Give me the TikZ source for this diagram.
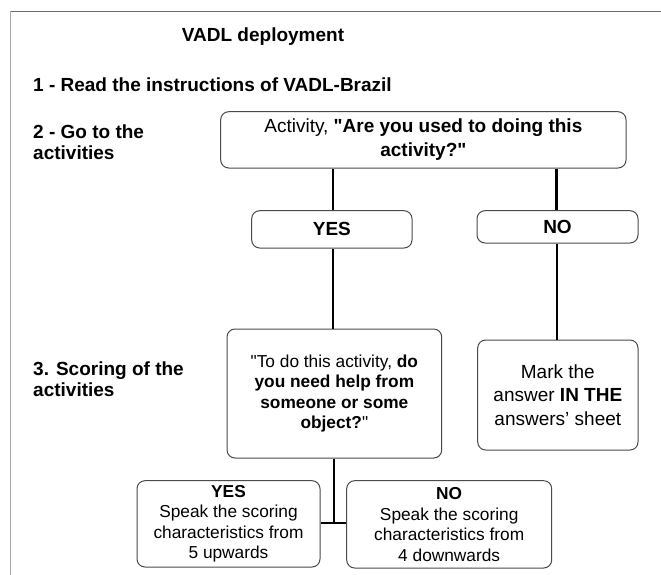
\documentclass[tikz,border=0pt]{standalone}
\usepackage{fontspec}
\setmainfont{Liberation Sans}[Ligatures=TeXOff]
\definecolor{framegray}{HTML}{6A6A6A}
\definecolor{framegrayL}{HTML}{A8A8A8}
\definecolor{boxgray}{HTML}{4A4A4A}
\tikzset{
  lbl/.style={inner sep=0pt, font=\fontsize{19}{21}\selectfont\bfseries, align=left},
  flowbox/.style={draw=boxgray, line width=1pt, rounded corners=8pt, inner sep=0pt, align=center},
  bigtxt/.style={font=\fontsize{19}{24}\selectfont},
  smalltxt/.style={font=\fontsize{17.3}{20.5}\selectfont},
  conn/.style={draw=black, line width=2.5pt}
}
\begin{document}
\begin{tikzpicture}[x=1pt,y=-1pt]
\useasboundingbox (0,0) rectangle (661,575);
% frame
\draw[framegray, line width=1pt] (661,11.5) -- (10.7,11.5);
\draw[framegrayL, line width=1.5pt] (10.7,11.5) -- (10.7,575);
% left labels
\node[lbl, anchor=center] (title) at (263,37) {VADL deployment};
\node[lbl, anchor=west] (step1) at (33,85) {1 - Read the instructions of VADL-Brazil};
\node[lbl, anchor=west] (step2) at (33,142.5) {2 - Go to the\\activities};
\node[lbl, anchor=west] (step3) at (33,379) {3. Scoring of the\\activities};
% boxes
\node[flowbox, bigtxt, minimum width=405.3pt, minimum height=56.3pt] (top) at (423.35,139.85)
  {Activity, \textbf{"Are you used to doing this}\\\textbf{activity?"}};
\node[flowbox, bigtxt, minimum width=160.3pt, minimum height=37.3pt] (yes) at (331.85,229.35) {\textbf{YES}};
\node[flowbox, bigtxt, minimum width=161pt, minimum height=32.3pt] (no) at (557.5,226.85) {\textbf{NO}};
\node[flowbox, smalltxt, minimum width=214.7pt, minimum height=129pt] (q) at (334.35,393.5)
  {"To do this activity, \textbf{do}\\\textbf{you need help from}\\\textbf{someone or some}\\\textbf{object?}"};
\node[flowbox, minimum width=160.3pt, minimum height=110pt, font=\fontsize{19}{23.5}\selectfont] (mark) at (557.85,395)
  {Mark the\\answer \textbf{IN THE}\\answers’ sheet};
\node[flowbox, smalltxt, minimum width=183pt, minimum height=86.3pt] (byes) at (228.5,523.85)
  {\textbf{YES}\\Speak the scoring\\characteristics from\\5 upwards};
\node[flowbox, smalltxt, minimum width=205pt, minimum height=87.3pt] (bno) at (449.2,524.35)
  {\textbf{NO}\\Speak the scoring\\characteristics from\\4 downwards};
% connectors
\coordinate (j) at (334,523);
\draw[conn] (333,0 |- top.south) -- (333,0 |- yes.north);
\draw[conn] (556.5,0 |- top.south) -- (556.5,0 |- no.north);
\draw[conn] (333,0 |- yes.south) -- (333,0 |- q.north);
\draw[conn] (557,0 |- no.south) -- (557,0 |- mark.north);
\draw[conn] (q.south -| j) -- (j);
\draw[conn] (byes.east |- j) -- (bno.west |- j);
\end{tikzpicture}
\end{document}
